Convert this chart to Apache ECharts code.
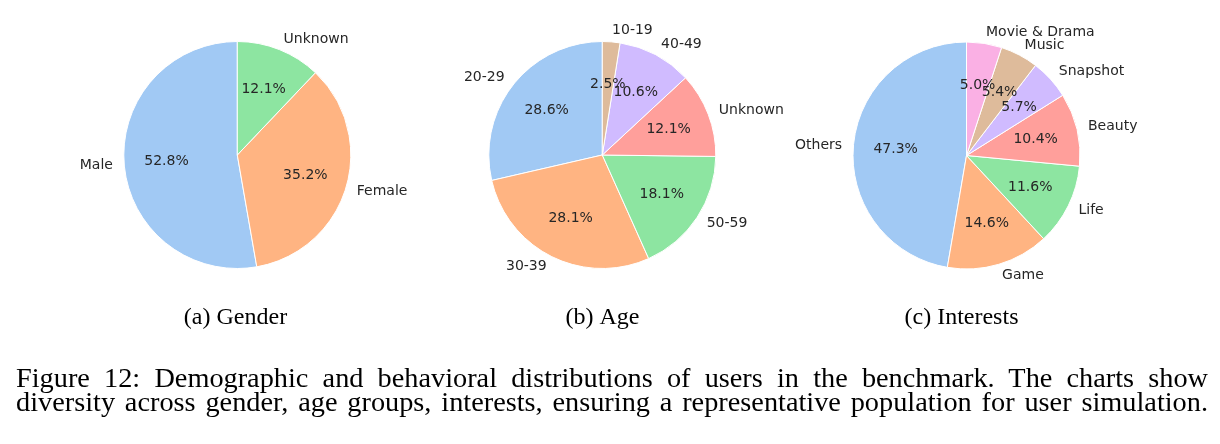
<!DOCTYPE html>
<html>
<head>
<meta charset="utf-8">
<script src="https://cdn.jsdelivr.net/npm/echarts@6/dist/echarts.min.js"></script>
<style>
html,body{margin:0;padding:0;background:#fff;}
#chart{position:absolute;left:0;top:0;width:1220px;height:444px;}
#caption{position:absolute;left:16px;top:366px;width:1192px;font-family:"Liberation Serif",serif;font-size:28.3px;line-height:24px;color:#000;}
#caption div{text-align:justify;text-align-last:justify;white-space:normal;}
</style>
</head>
<body>
<div id="chart"></div>
<div id="caption"><div>Figure 12: Demographic and behavioral distributions of users in the benchmark. The charts show</div><div>diversity across gender, age groups, interests, ensuring a representative population for user simulation.</div></div>
<script>
const genderLabels = ['Male', 'Female', 'Unknown'];
const genderValues = [52.8, 35.2, 12.1];
const ageLabels = ['20-29', '30-39', '50-59', 'Unknown', '40-49', '10-19'];
const ageValues = [28.6, 28.1, 18.1, 12.1, 10.6, 2.5];
const interestLabels = ['Others', 'Game', 'Life', 'Beauty', 'Snapshot', 'Music', 'Movie & Drama'];
const interestValues = [47.3, 14.6, 11.6, 10.4, 5.7, 5.4, 5.0];
const subCaptions = ['(a) Gender', '(b) Age', '(c) Interests'];
const palette = ['#a1c9f4', '#ffb482', '#8de5a1', '#ff9f9b', '#d0bbff', '#debb9b', '#fab0e4'];

const R = 113.5;
const centers = [[237.3, 155], [602.3, 155], [966.5, 155.5]];
const captionX = [235.5, 602.5, 961.5];
const textColor = '#262626';

function toData(labels, values) {
  return labels.map((n, i) => ({ name: n, value: values[i], itemStyle: { color: palette[i] } }));
}

const sets = [[genderLabels, genderValues], [ageLabels, ageValues], [interestLabels, interestValues]];
const series = [];
sets.forEach((s, k) => {
  const data = toData(s[0], s[1]);
  series.push({
    type: 'pie', center: centers[k], radius: [0, R], startAngle: 90, clockwise: false,
    avoidLabelOverlap: false, silent: true, animation: false,
    labelLayout: { hideOverlap: false },
    itemStyle: { borderColor: '#ffffff', borderWidth: 1 },
    label: { show: true, position: 'outside', formatter: '{b}', fontFamily: 'DejaVu Sans', fontSize: 14, color: textColor, distanceToLabelLine: 0 },
    labelLine: { show: false, length: R * 0.1, length2: 0 },
    data: data
  });
  series.push({
    type: 'pie', center: centers[k], radius: [R * 0.2, R], startAngle: 90, clockwise: false,
    avoidLabelOverlap: false, silent: true, animation: false,
    labelLayout: { hideOverlap: false },
    itemStyle: { color: 'rgba(0,0,0,0)', borderWidth: 0 },
    label: { show: true, position: 'inside', formatter: p => p.value.toFixed(1) + '%', fontFamily: 'DejaVu Sans', fontSize: 14, color: textColor },
    labelLine: { show: false },
    data: s[0].map((n, i) => ({ name: n, value: s[1][i], itemStyle: { color: 'rgba(0,0,0,0)' } }))
  });
});

const chart = echarts.init(document.getElementById('chart'), null, { renderer: 'canvas' });
chart.setOption({
  animation: false,
  title: subCaptions.map((t, i) => ({
    text: t, left: captionX[i], top: 306, textAlign: 'center', padding: 0,
    textStyle: { fontFamily: 'Liberation Serif', fontSize: 24, fontWeight: 'normal', color: '#000' }
  })),
  series: series
});
</script>
</body>
</html>
